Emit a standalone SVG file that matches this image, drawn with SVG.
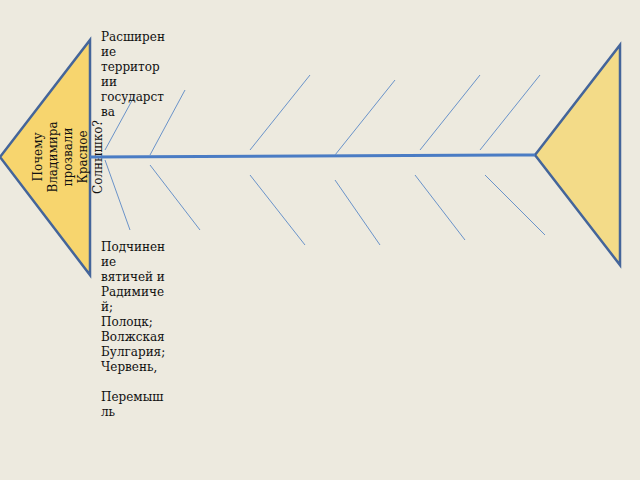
<svg xmlns="http://www.w3.org/2000/svg" width="640" height="480" viewBox="0 0 640 480">
<style>
.t{font-family:"DejaVu Serif",serif;font-size:12px;fill:#111}
.b{stroke:#6a93c9;stroke-width:1}
</style>
<rect width="640" height="480" fill="#edeadf"/>
<g id="head"><polygon points="0,157 90,40 90,275" fill="#f7d56e" stroke="#44659a" stroke-width="2.5"/>
<text class="t" transform="translate(95,157) rotate(-90)" text-anchor="middle"><tspan x="0" y="-53">Почему</tspan><tspan x="0" y="-38">Владимира</tspan><tspan x="0" y="-23">прозвали</tspan><tspan x="0" y="-8">Красное</tspan><tspan x="0" y="7">Солнышко?</tspan></text></g>
<g id="tail"><polygon points="535,155 620,45 620,265" fill="#f3db88" stroke="#44659a" stroke-width="2.5"/></g>
<g id="connectors">
<line x1="90" y1="157" x2="535" y2="155" stroke="#4a7cc4" stroke-width="3"/>
<g class="b">
<line x1="105" y1="150" x2="135" y2="95"/><line x1="150" y1="155" x2="185" y2="90"/>
<line x1="250" y1="150" x2="310" y2="75"/><line x1="335" y1="155" x2="395" y2="80"/>
<line x1="420" y1="150" x2="480" y2="75"/><line x1="480" y1="150" x2="540" y2="75"/>
<line x1="105" y1="160" x2="130" y2="230"/><line x1="150" y1="165" x2="200" y2="230"/>
<line x1="250" y1="175" x2="305" y2="245"/><line x1="335" y1="180" x2="380" y2="245"/>
<line x1="415" y1="175" x2="465" y2="240"/><line x1="485" y1="175" x2="545" y2="235"/>
</g></g>
<g id="top-label"><text class="t"><tspan x="101" y="41">Расширен</tspan><tspan x="101" y="56">ие</tspan><tspan x="101" y="71">территор</tspan><tspan x="101" y="86">ии</tspan><tspan x="101" y="101">государст</tspan><tspan x="101" y="116">ва</tspan></text></g>
<g id="bottom-label"><text class="t"><tspan x="101" y="251">Подчинен</tspan><tspan x="101" y="266">ие</tspan><tspan x="101" y="281">вятичей и</tspan><tspan x="101" y="296">Радимиче</tspan><tspan x="101" y="311">й;</tspan><tspan x="101" y="326">Полоцк;</tspan><tspan x="101" y="341">Волжская</tspan><tspan x="101" y="356">Булгария;</tspan><tspan x="101" y="371">Червень,</tspan><tspan x="101" y="401">Перемыш</tspan><tspan x="101" y="416">ль</tspan></text></g>
</svg>
